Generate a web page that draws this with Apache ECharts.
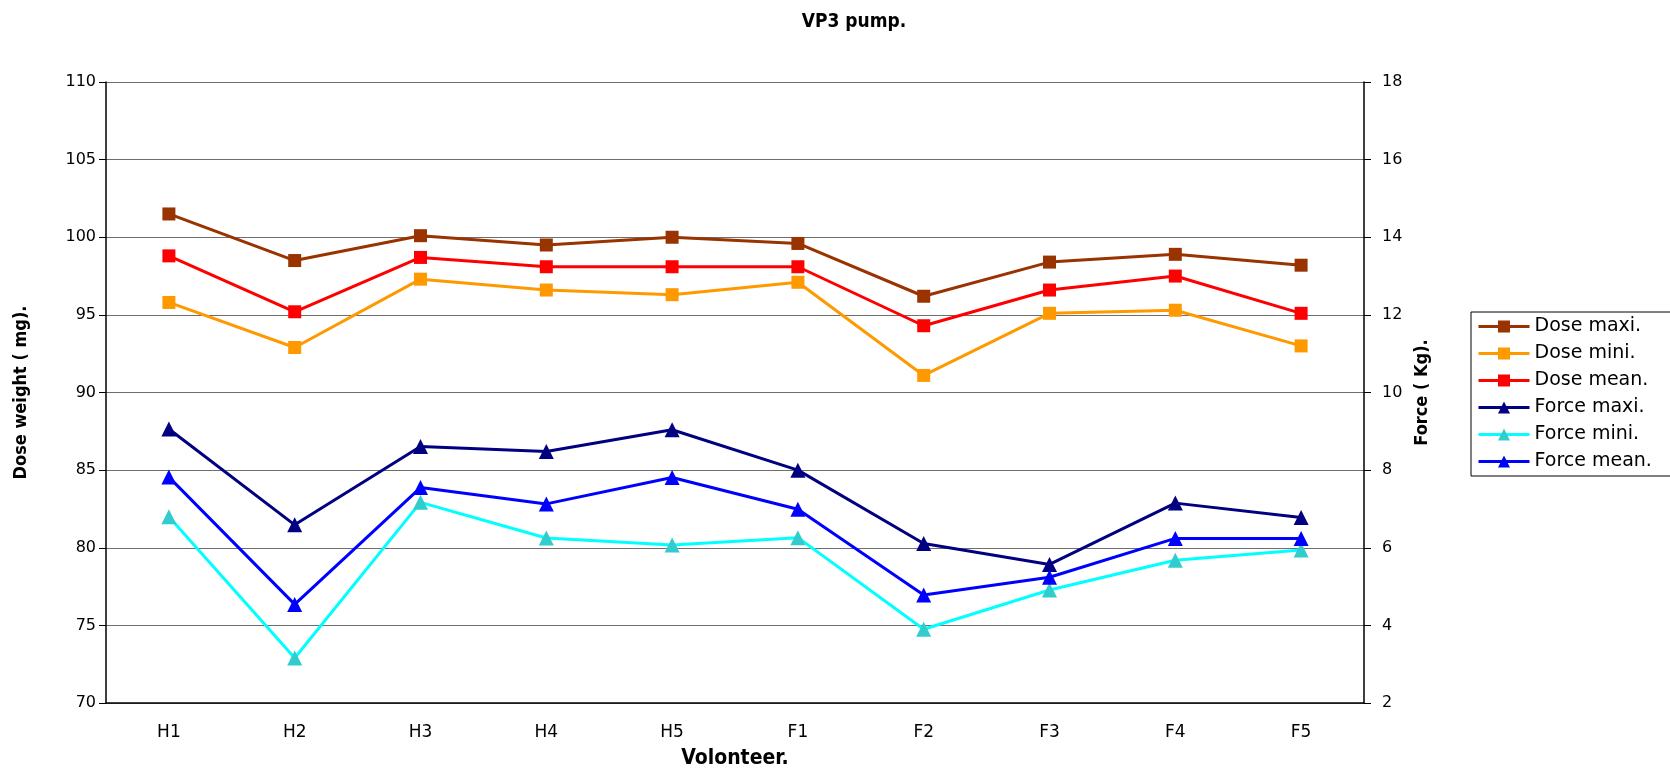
<!DOCTYPE html>
<html>
<head>
<meta charset="utf-8">
<script src="https://cdn.jsdelivr.net/npm/echarts@6/dist/echarts.min.js"></script>
<style>
  html, body { margin: 0; padding: 0; background: #fff; }
  #chart { width: 1670px; height: 770px; }
</style>
</head>
<body>
<div id="chart"></div>
<script>
// volunteers on the x axis
const categories = ['H1', 'H2', 'H3', 'H4', 'H5', 'F1', 'F2', 'F3', 'F4', 'F5'];

// dose weight (mg), left axis
const doseMaxi = [101.5, 98.5, 100.1, 99.5, 100.0, 99.6, 96.2, 98.4, 98.9, 98.2];
const doseMini = [95.8, 92.9, 97.3, 96.6, 96.3, 97.1, 91.1, 95.1, 95.3, 93.0];
const doseMean = [98.8, 95.2, 98.7, 98.1, 98.1, 98.1, 94.3, 96.6, 97.5, 95.1];

// force (Kg), right axis
const forceMaxi = [9.06, 6.59, 8.61, 8.48, 9.04, 8.0, 6.11, 5.57, 7.15, 6.78];
const forceMini = [6.8, 3.16, 7.17, 6.25, 6.07, 6.26, 3.9, 4.91, 5.68, 5.94];
const forceMean = [7.82, 4.54, 7.55, 7.13, 7.81, 6.99, 4.78, 5.24, 6.24, 6.24];

const narrow = "'DejaVu Sans Condensed', 'Liberation Sans Narrow', 'Liberation Sans', sans-serif";
const wide = "'DejaVu Sans', sans-serif";

const chart = echarts.init(document.getElementById('chart'), null, { renderer: 'canvas' });

function line(name, data, color, symbol, axis, markerColor) {
    return {
        name: name,
        type: 'line',
        yAxisIndex: axis,
        data: data,
        symbol: symbol,
        symbolSize: symbol === 'rect' ? 13 : 15,
        lineStyle: { color: color, width: 3 },
        itemStyle: { color: markerColor || color },
        emphasis: { disabled: true }
    };
}

const option = {
    animation: false,
    backgroundColor: '#fff',
    title: {
        text: 'VP3 pump.',
        left: 849,
        top: 8,
        textAlign: 'center',
        textStyle: { fontFamily: narrow, fontSize: 19, fontWeight: 'bold', color: '#000' }
    },
    legend: {
        orient: 'vertical',
        left: 1471,
        top: 312,
        padding: [5, 40, 5, 6],
        itemGap: 8,
        itemWidth: 51,
        itemHeight: 15,
        lineStyle: { width: 3 },
        borderColor: '#000',
        borderWidth: 1,
        textStyle: { fontFamily: wide, fontSize: 19, color: '#000' },
        data: ['Dose maxi.', 'Dose mini.', 'Dose mean.', 'Force maxi.', 'Force mini.', 'Force mean.']
    },
    // keep the plot box fixed, names may sit near the edge
    grid: { left: 106, right: 306, top: 82, bottom: 67, outerBoundsMode: 'none' },
    xAxis: {
        type: 'category',
        data: categories,
        boundaryGap: true,
        name: 'Volonteer.',
        nameLocation: 'middle',
        nameGap: 45,
        nameTextStyle: { fontFamily: narrow, fontSize: 21, fontWeight: 'bold', color: '#000' },
        axisLine: { lineStyle: { color: '#000', width: 1.5 } },
        axisTick: { length: 6, lineStyle: { color: '#000' } },
        axisLabel: { fontFamily: wide, fontSize: 17, color: '#000', margin: 21 },
        splitLine: { show: false }
    },
    yAxis: [
        {
            type: 'value',
            min: 70,
            max: 110,
            interval: 5,
            name: 'Dose weight ( mg).',
            nameLocation: 'middle',
            nameRotate: 90,
            nameGap: 76,
            nameTextStyle: { fontFamily: narrow, fontSize: 18, fontWeight: 'bold', color: '#000' },
            axisLine: { show: true, lineStyle: { color: '#000', width: 1.5 } },
            axisTick: { show: true, length: 7, lineStyle: { color: '#000' } },
            axisLabel: { fontFamily: wide, fontSize: 16, color: '#000', margin: 10 },
            splitLine: { show: true, lineStyle: { color: '#6e6e6e', width: 1.2 } }
        },
        {
            type: 'value',
            min: 2,
            max: 18,
            interval: 2,
            position: 'right',
            name: 'Force ( Kg).',
            nameLocation: 'middle',
            nameRotate: 90,
            nameGap: 43,
            nameTextStyle: { fontFamily: narrow, fontSize: 18, fontWeight: 'bold', color: '#000' },
            axisLine: { show: true, lineStyle: { color: '#000', width: 1.5 } },
            axisTick: { show: true, length: 7, lineStyle: { color: '#000' } },
            axisLabel: { fontFamily: wide, fontSize: 16, color: '#000', margin: 18 },
            splitLine: { show: false }
        }
    ],
    series: [
        line('Dose maxi.', doseMaxi, '#993300', 'rect', 0),
        line('Dose mini.', doseMini, '#FF9900', 'rect', 0),
        line('Dose mean.', doseMean, '#FF0000', 'rect', 0),
        line('Force maxi.', forceMaxi, '#000080', 'triangle', 1),
        line('Force mini.', forceMini, '#00FFFF', 'triangle', 1, '#33CCCC'),
        line('Force mean.', forceMean, '#0000FF', 'triangle', 1)
    ]
};

chart.setOption(option);
</script>
</body>
</html>
